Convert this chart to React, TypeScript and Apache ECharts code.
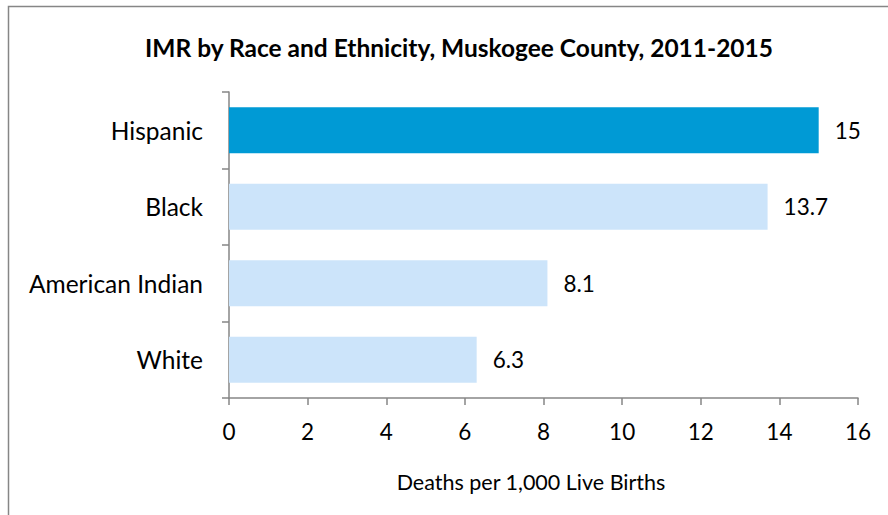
import React, { useEffect, useRef } from "react";
import * as echarts from "echarts";

const categories = ["Hispanic", "Black", "American Indian", "White"];
const values = [15, 13.7, 8.1, 6.3];
const barColors = ["#009AD5", "#CCE4FA", "#CCE4FA", "#CCE4FA"];
const xTicks = [0, 16, 2];
const titleText = "IMR by Race and Ethnicity, Muskogee County, 2011-2015";
const xAxisTitle = "Deaths per 1,000 Live Births";

export default function App() {
  const ref = useRef<HTMLDivElement>(null);
  useEffect(() => {
    if (!ref.current) return;
    const chart = echarts.init(ref.current, undefined, { renderer: "svg" });
    const font = "Lato, 'Open Sans', sans-serif";
    chart.setOption({
      animation: false,
      backgroundColor: "#ffffff",
      textStyle: { fontFamily: font },
      title: {
        text: titleText,
        left: 454,
        top: 30,
        textAlign: "center",
        textStyle: { fontFamily: font, fontWeight: "bold", fontSize: 24.5, color: "#000" },
      },
      graphic: [
        {
          type: "rect",
          shape: { x: 8.5, y: 6.5, width: 900, height: 530 },
          style: { fill: "none", stroke: "#868686", lineWidth: 1.5 },
          silent: true,
        },
        {
          type: "text",
          x: 531,
          y: 482,
          style: {
            text: xAxisTitle,
            fontFamily: font,
            fontSize: 21.5,
            fill: "#000",
            textAlign: "center",
            textVerticalAlign: "middle",
          },
        },
      ],
      grid: { left: 229, right: 30, top: 92, bottom: 117, containLabel: false },
      xAxis: {
        type: "value",
        min: xTicks[0],
        max: xTicks[1],
        interval: xTicks[2],
        axisLine: { show: true, lineStyle: { color: "#868686", width: 1.5 } },
        axisTick: { show: true, length: 7, lineStyle: { color: "#868686", width: 1.5 } },
        splitLine: { show: false },
        axisLabel: { fontFamily: font, fontSize: 22.5, color: "#000", margin: 22 },
      },
      yAxis: {
        type: "category",
        inverse: true,
        data: categories,
        axisLine: { show: true, lineStyle: { color: "#868686", width: 1.5 } },
        axisTick: { show: true, length: 7, lineStyle: { color: "#868686", width: 1.5 } },
        axisLabel: { fontFamily: font, fontSize: 24.5, color: "#000", margin: 26 },
      },
      series: [
        {
          type: "bar",
          data: values.map((v, i) => ({ value: v, itemStyle: { color: barColors[i] } })),
          barCategoryGap: "40%",
          label: {
            show: true,
            position: "right",
            distance: 16,
            fontFamily: font,
            fontSize: 22.5,
            color: "#000",
          },
        },
      ],
    });
    return () => chart.dispose();
  }, []);
  return (
    <div
      ref={ref}
      style={{ position: "fixed", left: 0, top: 0, width: 888, height: 515 }}
    />
  );
}
